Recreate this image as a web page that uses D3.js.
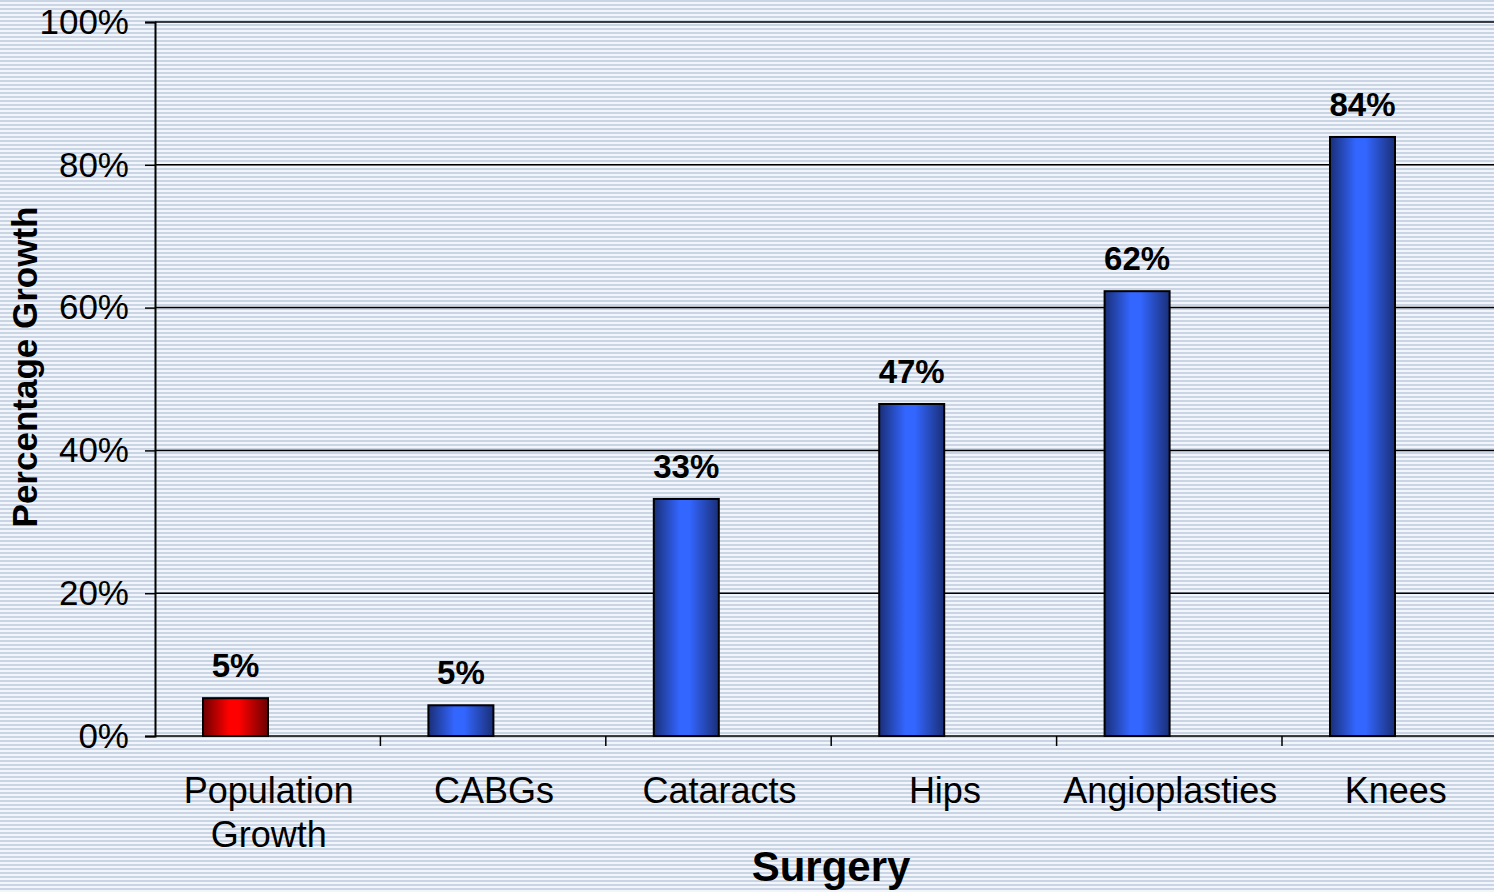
<!DOCTYPE html>
<html>
<head>
<meta charset="utf-8">
<script src="https://cdn.jsdelivr.net/npm/d3@7"></script>
<style>
  body { margin: 0; padding: 0; overflow: hidden; }
  svg { display: block; font-family: "Liberation Sans", Arial, sans-serif; }
</style>
</head>
<body>
<div id="grafico"></div>
<script>
const WIDTH = 1494;
const HEIGHT = 892;

// data
const categories = ["Population Growth", "CABGs", "Cataracts", "Hips", "Angioplasties", "Knees"];
const growth = [5.3, 4.3, 33.2, 46.5, 62.3, 83.9];
const valueLabels = ["5%", "5%", "33%", "47%", "62%", "84%"];
const yTicks = [0, 20, 40, 60, 80, 100];

const margin = {left: 155, top: 22, bottom: 156};
const bandW = 225.4;

let svg = d3.select("#grafico")
    .append("svg")
    .attr("width", WIDTH)
    .attr("height", HEIGHT);

let defs = svg.append("defs");

// striped background
let pat = defs.append("pattern")
    .attr("id", "stripes")
    .attr("width", 8)
    .attr("height", 4)
    .attr("patternUnits", "userSpaceOnUse");
pat.append("rect").attr("width", 8).attr("height", 4).attr("fill", "#f2f5f9");
pat.append("rect").attr("y", 0).attr("width", 8).attr("height", 2).attr("fill", "#c9d5e4");

function barGradient(id, dark, light) {
    let g = defs.append("linearGradient").attr("id", id)
        .attr("x1", "0%").attr("x2", "100%").attr("y1", "0%").attr("y2", "0%");
    g.append("stop").attr("offset", "0%").attr("stop-color", dark);
    g.append("stop").attr("offset", "40%").attr("stop-color", light);
    g.append("stop").attr("offset", "55%").attr("stop-color", light);
    g.append("stop").attr("offset", "100%").attr("stop-color", dark);
}
barGradient("blueGrad", "#1a2f78", "#3366ff");
barGradient("redGrad", "#6e0000", "#ff0000");

svg.append("rect")
    .attr("width", WIDTH)
    .attr("height", HEIGHT)
    .attr("fill", "url(#stripes)");

let x = d3.scaleBand()
    .domain(categories)
    .range([margin.left, margin.left + bandW * categories.length])
    .padding(0);

let y = d3.scaleLinear()
    .domain([0, 100])
    .range([HEIGHT - margin.bottom, margin.top]);

// gridlines
svg.append("g")
    .selectAll("line")
    .data(yTicks)
    .enter()
    .append("line")
    .attr("x1", margin.left)
    .attr("x2", WIDTH)
    .attr("y1", d => y(d))
    .attr("y2", d => y(d))
    .style("stroke", "black")
    .style("stroke-width", 1.5);

// y axis
let yAxis = svg.append("g")
    .attr("transform", `translate(${margin.left},0)`)
    .call(d3.axisLeft(y).tickValues(yTicks).tickFormat(d => d + "%").tickSize(10).tickPadding(16));
yAxis.select(".domain").style("stroke", "black").style("stroke-width", 2);
yAxis.selectAll(".tick line").style("stroke", "black").style("stroke-width", 1.5);
yAxis.selectAll("text")
    .style("font-size", "35px")
    .style("fill", "black")
    .style("font-family", "Liberation Sans, Arial, sans-serif");

// x axis ticks at band edges
let xBase = y(0);
svg.append("g")
    .selectAll("line")
    .data(categories.slice(1))
    .enter()
    .append("line")
    .attr("x1", d => x(d))
    .attr("x2", d => x(d))
    .attr("y1", xBase)
    .attr("y2", xBase + 10)
    .style("stroke", "black")
    .style("stroke-width", 1.5);

// bars
const barOffset = 48;
const barW = 65;
svg.append("g")
    .selectAll("rect")
    .data(categories)
    .enter()
    .append("rect")
    .attr("x", d => x(d) + barOffset)
    .attr("y", (d, i) => y(growth[i]))
    .attr("width", barW)
    .attr("height", (d, i) => y(0) - y(growth[i]))
    .style("fill", (d, i) => i === 0 ? "url(#redGrad)" : "url(#blueGrad)")
    .style("stroke", "black")
    .style("stroke-width", 2);

// value labels
svg.append("g")
    .selectAll("text")
    .data(categories)
    .enter()
    .append("text")
    .attr("x", d => x(d) + barOffset + barW / 2)
    .attr("y", (d, i) => y(growth[i]) - 21)
    .attr("text-anchor", "middle")
    .style("font-size", "33px")
    .style("font-weight", "bold")
    .style("fill", "black")
    .text((d, i) => valueLabels[i]);

// category labels
let catText = svg.append("g")
    .selectAll("text")
    .data(categories)
    .enter()
    .append("text")
    .attr("y", xBase + 67)
    .attr("text-anchor", "middle")
    .style("font-size", "36px")
    .style("fill", "black");
catText.each(function(d) {
    let words = d === "Population Growth" ? ["Population", "Growth"] : [d];
    let t = d3.select(this);
    words.forEach((w, k) => {
        t.append("tspan")
            .attr("x", x(d) + bandW / 2 + 1)
            .attr("dy", k === 0 ? 0 : 44)
            .text(w);
    });
});

// axis titles
svg.append("text")
    .attr("x", 831)
    .attr("y", 881)
    .attr("text-anchor", "middle")
    .style("font-size", "42px")
    .style("font-weight", "bold")
    .style("fill", "black")
    .text("Surgery");

svg.append("text")
    .attr("transform", "translate(37,367) rotate(-90)")
    .attr("text-anchor", "middle")
    .style("font-size", "35px")
    .style("font-weight", "bold")
    .style("fill", "black")
    .text("Percentage Growth");
</script>
</body>
</html>
